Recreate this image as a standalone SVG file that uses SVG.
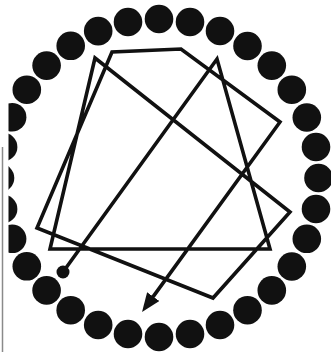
<svg xmlns="http://www.w3.org/2000/svg" width="331" height="352" viewBox="0 0 331 352">
<style>
.bead{fill:#111}
.route{fill:none;stroke:#111;stroke-width:3.6;stroke-linejoin:miter;stroke-miterlimit:10}
.edge{stroke:#8a8a8a;stroke-width:1.5}
</style>
<defs>
<clipPath id="page"><rect x="8.5" y="0" width="331" height="352"/></clipPath>
<marker id="arrow" viewBox="0 0 19 15" refX="9" refY="7.5" markerWidth="19" markerHeight="15" markerUnits="userSpaceOnUse" orient="auto">
<path d="M0,0 L19,7.5 L0,15 z" fill="#111"/>
</marker>
</defs>
<rect width="331" height="352" fill="#fff"/>
<line class="edge" x1="2.5" y1="147" x2="2.5" y2="352"/>
<g id="ring" clip-path="url(#page)">
<circle class="bead" cx="159" cy="19" r="14.3"/>
<circle class="bead" cx="190" cy="22" r="14.3"/>
<circle class="bead" cx="220" cy="31" r="14.3"/>
<circle class="bead" cx="247.5" cy="46" r="14.3"/>
<circle class="bead" cx="271.8" cy="65.6" r="14.3"/>
<circle class="bead" cx="291.8" cy="89.7" r="14.3"/>
<circle class="bead" cx="306.8" cy="117.5" r="14.3"/>
<circle class="bead" cx="316" cy="147" r="14.3"/>
<circle class="bead" cx="318.5" cy="178" r="14.3"/>
<circle class="bead" cx="316" cy="209" r="14.3"/>
<circle class="bead" cx="306.8" cy="238.8" r="14.3"/>
<circle class="bead" cx="291.8" cy="266.5" r="14.3"/>
<circle class="bead" cx="271.8" cy="290.4" r="14.3"/>
<circle class="bead" cx="247.5" cy="310.2" r="14.3"/>
<circle class="bead" cx="220" cy="325" r="14.3"/>
<circle class="bead" cx="190" cy="334" r="14.3"/>
<circle class="bead" cx="159" cy="337" r="14.3"/>
<circle class="bead" cx="128" cy="334" r="14.3"/>
<circle class="bead" cx="98.2" cy="325" r="14.3"/>
<circle class="bead" cx="70.7" cy="310.2" r="14.3"/>
<circle class="bead" cx="46.6" cy="290.4" r="14.3"/>
<circle class="bead" cx="26.8" cy="266.3" r="14.3"/>
<circle class="bead" cx="12.1" cy="238.8" r="14.3"/>
<circle class="bead" cx="3.1" cy="209" r="14.3"/>
<circle class="bead" cx="0" cy="178" r="14.3"/>
<circle class="bead" cx="3.1" cy="147" r="14.3"/>
<circle class="bead" cx="12.1" cy="117.2" r="14.3"/>
<circle class="bead" cx="26.8" cy="89.7" r="14.3"/>
<circle class="bead" cx="46.6" cy="65.6" r="14.3"/>
<circle class="bead" cx="70.7" cy="45.8" r="14.3"/>
<circle class="bead" cx="98.2" cy="31.1" r="14.3"/>
<circle class="bead" cx="128" cy="22" r="14.3"/>
</g>
<g id="connectors">
<circle id="start" cx="63" cy="272" r="6.5" fill="#111"/>
<polyline class="route" marker-end="url(#arrow)" points="63,272 217,59 270,249 50,249 95,58 290,212 213,298 37,228 112,52 181,49 280,122 147.9,303.9"/>
</g>
</svg>
